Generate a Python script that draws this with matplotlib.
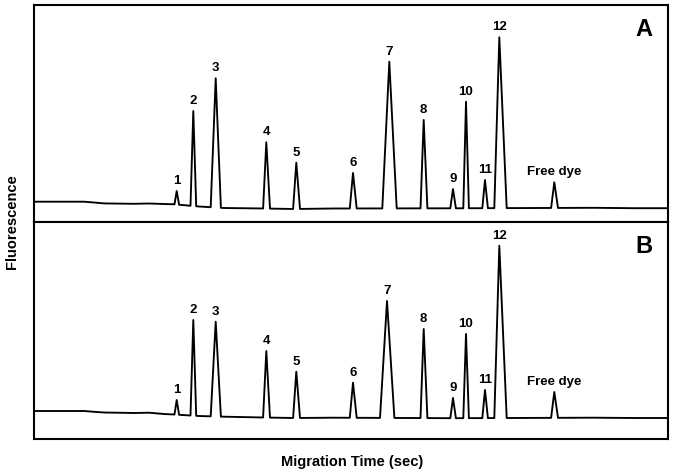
import numpy as np
import matplotlib
matplotlib.use("Agg")
import matplotlib.pyplot as plt

plt.rcParams['font.family'] = ['Liberation Sans', 'DejaVu Sans']

# ---- data (migration time in arbitrary seconds, fluorescence in arbitrary units)
peak_labels = ["1", "2", "3", "4", "5", "6", "7", "8", "9", "10", "11", "12", "Free dye"]
peak_times_a = [142.7, 159.3, 181.7, 232.3, 262.3, 319.0, 355.3, 389.7, 419.0, 432.0, 451.0, 465.3, 520.3]
peak_times_b = [142.7, 159.3, 181.7, 232.3, 262.3, 319.0, 353.0, 389.7, 419.0, 432.0, 451.0, 465.3, 520.3]
left_widths = [2.2, 2.8, 5.0, 3.2, 3.2, 3.2, 7.0, 3.2, 2.7, 2.7, 2.7, 5.0, 3.2]
right_widths = [2.4, 2.9, 5.2, 3.7, 3.7, 3.7, 7.4, 3.7, 2.9, 2.9, 2.9, 7.4, 3.7]
heights_a = [31.0, 111.0, 143.7, 79.7, 59.3, 49.0, 160.3, 102.0, 33.0, 120.3, 42.0, 184.7, 39.7]
heights_b = [39.0, 119.0, 117.3, 88.0, 67.3, 56.3, 138.0, 110.0, 41.0, 105.0, 49.0, 193.3, 47.0]

baseline_times = [0, 50, 60, 70, 100, 115, 130, 140, 165, 190, 230, 260, 300, 420, 560, 600, 634]
baseline_a = [20.3, 20.3, 19.5, 18.6, 18.2, 18.5, 18.0, 17.7, 15.5, 14.0, 13.5, 13.0, 13.5, 13.7, 14.2, 13.8, 13.8]
baseline_b = [28.0, 28.0, 27.2, 26.5, 26.0, 26.3, 25.0, 24.5, 23.0, 22.3, 21.5, 21.0, 21.3, 20.8, 21.3, 21.0, 21.0]

panel_names = ["A", "B"]
x_label = "Migration Time (sec)"
y_label = "Fluorescence"


def build_trace(times, heights, base_t, base_y):
    bt = np.asarray(base_t, float)
    by = np.asarray(base_y, float)
    pts = []
    for t, h, wl, wr in zip(times, heights, left_widths, right_widths):
        pts.append((t - wl, np.interp(t - wl, bt, by)))
        pts.append((t, h))
        pts.append((t + wr, np.interp(t + wr, bt, by)))
    keep = []
    for x, y in zip(bt, by):
        inside = any((t - wl) <= x <= (t + wr) for t, wl, wr in zip(times, left_widths, right_widths))
        if not inside:
            keep.append((x, y))
    allp = sorted(keep + pts, key=lambda p: p[0])
    return [p[0] for p in allp], [p[1] for p in allp]


fig = plt.figure(figsize=(6.74, 4.74), dpi=100)
W, H = 674, 474
left = 34 / W
width = (668 - 34) / W
axA = fig.add_axes([left, 1 - 222 / H, width, 217 / H])
axB = fig.add_axes([left, 1 - 439 / H, width, 217 / H])

for ax, times, heights, base, name in [
    (axA, peak_times_a, heights_a, baseline_a, panel_names[0]),
    (axB, peak_times_b, heights_b, baseline_b, panel_names[1]),
]:
    x, y = build_trace(times, heights, baseline_times, base)
    ax.plot(x, y, color='black', lw=1.35, solid_joinstyle='round')
    ax.set_xlim(0, 634)
    ax.set_ylim(0, 217)
    ax.set_xticks([])
    ax.set_yticks([])
    for s in ax.spines.values():
        s.set_linewidth(1.5)
        s.set_color('black')
    for t, h, lab in zip(times, heights, peak_labels):
        ax.text(t, h + 7, lab, ha='center', va='baseline', fontsize=9.5, fontweight='bold')
    ax.text(0.9626, 0.889, name, transform=ax.transAxes, ha='center', va='center',
            fontsize=17, fontweight='bold')

fig.text(12 / W, 1 - 222 / H, y_label, rotation=90, ha='center', va='center',
         fontsize=10.5, fontweight='bold')
fig.text(352 / W, 1 - 462 / H, x_label, ha='center', va='center',
         fontsize=10.5, fontweight='bold')

fig.savefig("out.png", dpi=100)
